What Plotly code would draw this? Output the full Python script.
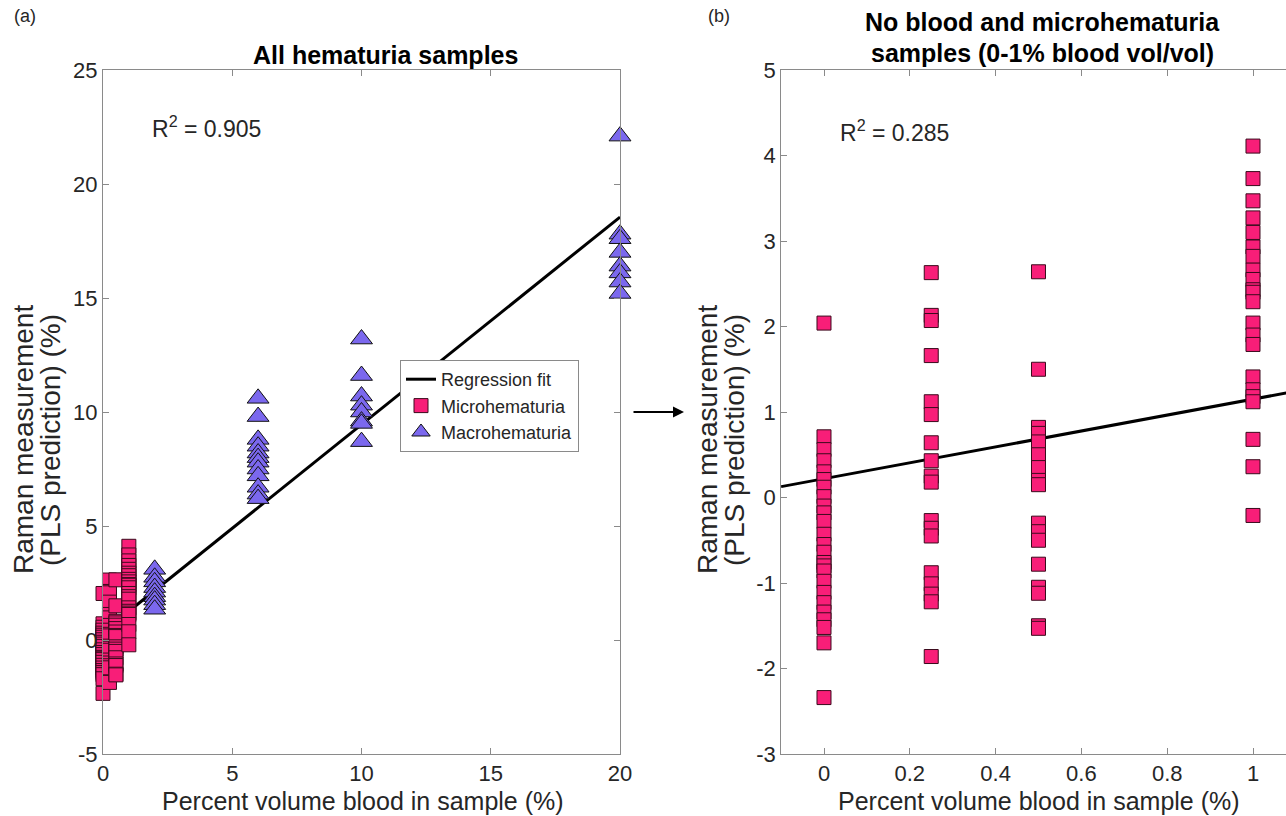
import plotly.graph_objects as go

# ---------------- data ----------------
micro_levels = [0.0, 0.25, 0.5, 1.0]
micro_vals_0 = [2.04, 0.71, 0.56, 0.43, 0.30, 0.21, 0.12, 0.01, -0.10, -0.18, -0.28,
                -0.43, -0.55, -0.64, -0.76, -0.80, -0.86, -0.98, -1.11, -1.23, -1.34,
                -1.43, -1.52, -1.70, -2.34]
micro_vals_025 = [2.63, 2.13, 2.07, 1.66, 1.12, 0.97, 0.64, 0.43, 0.25, 0.18, -0.27,
                  -0.36, -0.45, -0.88, -1.01, -1.13, -1.22, -1.86]
micro_vals_05 = [2.64, 1.50, 0.82, 0.75, 0.65, 0.50, 0.35, 0.20, 0.15, -0.30, -0.40,
                 -0.50, -0.78, -1.05, -1.12, -1.50, -1.53]
micro_vals_1 = [4.11, 3.73, 3.47, 3.27, 3.10, 2.93, 2.82, 2.66, 2.55, 2.43, 2.40, 2.29,
                2.04, 1.90, 1.79, 1.41, 1.26, 1.18, 1.12, 0.68, 0.36, -0.21]

macro_levels = [2, 6, 10, 20]
macro_vals_2 = [3.10, 2.75, 2.55, 2.30, 2.10, 1.90, 1.75, 1.55, 1.35]
macro_vals_6 = [10.6, 9.8, 8.8, 8.5, 8.2, 8.0, 7.8, 7.5, 7.2, 6.7, 6.4, 6.2]
macro_vals_10 = [13.2, 11.6, 10.7, 10.3, 10.0, 9.6, 9.5, 8.7]
macro_vals_20 = [22.1, 17.8, 17.6, 17.0, 16.4, 16.1, 15.7, 15.2]

fit_a_slope, fit_a_intercept = 0.91, 0.35
fit_a_x = [0, 20]
fit_b_slope, fit_b_intercept = 0.93, 0.22
fit_b_x = [-0.1, 1.1]

r2_a = "0.905"
r2_b = "0.285"

xticks_a = [0, 5, 10, 15, 20]
yticks_a = [-5, 0, 5, 10, 15, 20, 25]
xticks_b = [0, 0.2, 0.4, 0.6, 0.8, 1]
xticklabels_b = ["0", "0.2", "0.4", "0.6", "0.8", "1"]
yticks_b = [-3, -2, -1, 0, 1, 2, 3, 4, 5]

# -------------- build ---------------
micro_groups = [micro_vals_0, micro_vals_025, micro_vals_05, micro_vals_1]
macro_groups = [macro_vals_2, macro_vals_6, macro_vals_10, macro_vals_20]
micro_x, micro_y = [], []
for lv, vals in zip(micro_levels, micro_groups):
    micro_x += [lv] * len(vals)
    micro_y += vals
macro_x, macro_y = [], []
for lv, vals in zip(macro_levels, macro_groups):
    macro_x += [lv] * len(vals)
    macro_y += vals

PINK = "#F81E78"
PURPLE = "#7B68EE"
TXT = "#262626"
AX = "#8a8a8a"
FONT = "Arial, Liberation Sans, sans-serif"

fig = go.Figure()

# panel a
fig.add_trace(go.Scatter(x=fit_a_x, y=[fit_a_intercept + fit_a_slope * v for v in fit_a_x],
                         mode="lines", line=dict(color="black", width=3),
                         name="Regression fit", xaxis="x", yaxis="y"))
fig.add_trace(go.Scatter(x=micro_x, y=micro_y, mode="markers", name="Microhematuria",
                         marker=dict(symbol="square", size=14, color=PINK,
                                     line=dict(color="#3a0a1c", width=1)),
                         cliponaxis=False, xaxis="x", yaxis="y"))
fig.add_trace(go.Scatter(x=macro_x, y=macro_y, mode="markers", name="Macrohematuria",
                         marker=dict(symbol="triangle-up", size=19, color=PURPLE,
                                     line=dict(color="#111111", width=1)),
                         cliponaxis=False, xaxis="x", yaxis="y"))

# panel b
fig.add_trace(go.Scatter(x=fit_b_x, y=[fit_b_intercept + fit_b_slope * v for v in fit_b_x],
                         mode="lines", line=dict(color="black", width=3),
                         showlegend=False, xaxis="x2", yaxis="y2"))
fig.add_trace(go.Scatter(x=micro_x, y=micro_y, mode="markers", showlegend=False,
                         marker=dict(symbol="square", size=14, color=PINK,
                                     line=dict(color="#3a0a1c", width=1)),
                         xaxis="x2", yaxis="y2"))

W, H = 1286, 816
axis_common = dict(showline=True, linecolor=AX, linewidth=1, ticks="inside", ticklen=6,
                   tickcolor=AX, showgrid=False, zeroline=False, automargin=False,
                   tickfont=dict(family=FONT, size=22, color=TXT))


def lab(v):
    return "%g" % v  # hyphen-minus as in the reference


ydom = [1 - 754 / H, 1 - 70 / H]
x0b, x1b = 824.0, 1253.0
ppu_b = x1b - x0b
fig.update_layout(
    width=W, height=H, margin=dict(l=0, r=0, t=0, b=0, autoexpand=False),
    paper_bgcolor="white", plot_bgcolor="white",
    font=dict(family=FONT, color=TXT),
    xaxis=dict(domain=[103 / W, 620 / W], range=[0, 20], tickvals=xticks_a,
               ticktext=[lab(v) for v in xticks_a], mirror="ticks",
               anchor="y", **axis_common),
    yaxis=dict(domain=ydom, range=[-5, 25], tickvals=yticks_a,
               ticktext=[lab(v) for v in yticks_a], mirror="ticks",
               anchor="x", **axis_common),
    xaxis2=dict(domain=[(x0b - 0.1 * ppu_b) / W, 1.0],
                range=[-0.1, (W - x0b) / ppu_b], tickvals=xticks_b,
                ticktext=xticklabels_b, mirror="ticks",
                anchor="y2", **axis_common),
    yaxis2=dict(domain=ydom, range=[-3, 5], tickvals=yticks_b,
                ticktext=[lab(v) for v in yticks_b], mirror=False,
                anchor="x2", **axis_common),
    legend=dict(x=400 / W, y=1 - 360 / H, xanchor="left", yanchor="top",
                bgcolor="white", bordercolor=AX, borderwidth=1,
                font=dict(family=FONT, size=18, color=TXT), tracegroupgap=0,
                itemwidth=30),
    showlegend=True,
)

ytitle1 = "Raman measurement"
ytitle2 = "(PLS prediction) (%)"
xtitle = "Percent volume blood in sample (%)"

ann = [
    dict(text="(a)", x=12 / W, y=1 - 16 / H, xanchor="left", yanchor="middle",
         font=dict(size=18)),
    dict(text="(b)", x=706 / W, y=1 - 16 / H, xanchor="left", yanchor="middle",
         font=dict(size=18)),
    dict(text="<b>All hematuria samples</b>", x=385 / W, y=1 - 55 / H,
         xanchor="center", yanchor="middle", font=dict(size=25, color="black")),
    dict(text="<b>No blood and microhematuria</b>", x=1042 / W, y=1 - 22 / H,
         xanchor="center", yanchor="middle", font=dict(size=25, color="black")),
    dict(text="<b>samples (0-1% blood vol/vol)</b>", x=1042 / W, y=1 - 53 / H,
         xanchor="center", yanchor="middle", font=dict(size=25, color="black")),
    dict(text=xtitle, x=363 / W, y=1 - 801 / H,
         xanchor="center", yanchor="middle", font=dict(size=25)),
    dict(text=xtitle, x=1039 / W, y=1 - 801 / H,
         xanchor="center", yanchor="middle", font=dict(size=25)),
    dict(text=ytitle1, x=23 / W, y=1 - 440 / H,
         xanchor="center", yanchor="middle", textangle=-90, font=dict(size=28)),
    dict(text=ytitle2, x=50 / W, y=1 - 440 / H,
         xanchor="center", yanchor="middle", textangle=-90, font=dict(size=28)),
    dict(text=ytitle1, x=707 / W, y=1 - 440 / H,
         xanchor="center", yanchor="middle", textangle=-90, font=dict(size=28)),
    dict(text=ytitle2, x=734 / W, y=1 - 440 / H,
         xanchor="center", yanchor="middle", textangle=-90, font=dict(size=28)),
    dict(text="R<sup>2</sup> = " + r2_a, x=150 / W, y=1 - 127 / H, xanchor="left",
         yanchor="middle", font=dict(size=23)),
    dict(text="R<sup>2</sup> = " + r2_b, x=838 / W, y=1 - 131 / H, xanchor="left",
         yanchor="middle", font=dict(size=23)),
    dict(text="", x=684 / W, y=1 - 412 / H, ax=-52, ay=0, showarrow=True,
         arrowhead=2, arrowsize=1, arrowwidth=2.2, arrowcolor="black"),
]
for a in ann:
    a.setdefault("xref", "paper")
    a.setdefault("yref", "paper")
    a.setdefault("showarrow", False)
fig.update_layout(annotations=ann)

fig.write_html("out.html", config={"displayModeBar": False},
               post_script="document.body.style.margin='0';"
                           "document.body.style.overflow='hidden';")
